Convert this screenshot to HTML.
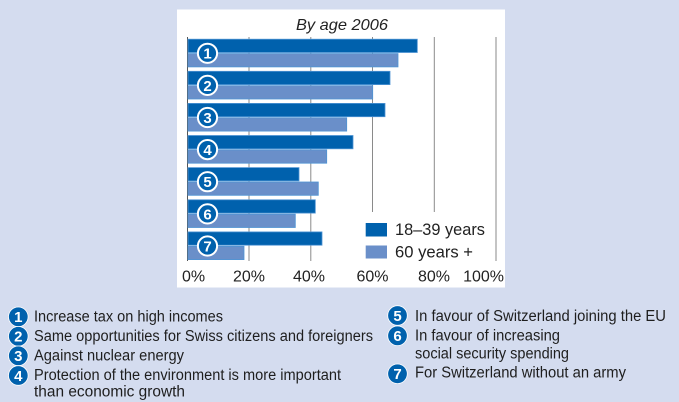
<!DOCTYPE html>
<html>
<head>
<meta charset="utf-8">
<style>
html,body{margin:0;padding:0;background:#D4DCEF;}
svg{display:block;}
text{font-family:"Liberation Sans",sans-serif;}
</style>
</head>
<body>
<svg width="679" height="402" viewBox="0 0 679 402" xmlns="http://www.w3.org/2000/svg">
<rect x="0" y="0" width="679" height="402" fill="#D4DCEF"/>
<rect x="177" y="9.5" width="328" height="278" fill="#FFFFFF"/>

<text x="342" y="30" font-size="16" font-style="italic" fill="#222" text-anchor="middle" textLength="92" lengthAdjust="spacingAndGlyphs">By age 2006</text>

<!-- gridlines -->
<g stroke="#8a8a8a" stroke-width="1">
<line x1="249" y1="37" x2="249" y2="261"/>
<line x1="310.8" y1="37" x2="310.8" y2="261"/>
<line x1="372.5" y1="37" x2="372.5" y2="261"/>
<line x1="434.3" y1="37" x2="434.3" y2="261"/>
<line x1="496" y1="37" x2="496" y2="261"/>
</g>
<rect x="345" y="212" width="145" height="52" fill="#FFFFFF"/>
<line x1="187.5" y1="37" x2="187.5" y2="261" stroke="#555" stroke-width="1"/>

<!-- bars -->
<g stroke="#4F94D4" stroke-width="0.8">
<rect x="188" y="39.2" width="229.3" height="13.3" fill="#0061AD"/>
<rect x="188" y="53.6" width="210" height="13.3" fill="#6A8FC9"/>
<rect x="188" y="71.3" width="202" height="13.3" fill="#0061AD"/>
<rect x="188" y="85.7" width="184.7" height="13.3" fill="#6A8FC9"/>
<rect x="188" y="103.4" width="197" height="13.3" fill="#0061AD"/>
<rect x="188" y="117.8" width="158.7" height="13.3" fill="#6A8FC9"/>
<rect x="188" y="135.5" width="165" height="13.3" fill="#0061AD"/>
<rect x="188" y="149.9" width="138.7" height="13.3" fill="#6A8FC9"/>
<rect x="188" y="167.6" width="111" height="13.3" fill="#0061AD"/>
<rect x="188" y="182" width="130.3" height="13.3" fill="#6A8FC9"/>
<rect x="188" y="199.8" width="127.3" height="13.3" fill="#0061AD"/>
<rect x="188" y="214.2" width="107.3" height="13.3" fill="#6A8FC9"/>
<rect x="188" y="231.9" width="134" height="13.3" fill="#0061AD"/>
<rect x="188" y="246.3" width="56" height="13.3" fill="#6A8FC9"/>
</g>

<!-- chart circles -->
<g fill="#0061AD" stroke="#FFFFFF" stroke-width="2">
<circle cx="207.5" cy="53.3" r="9.6"/>
<circle cx="207.5" cy="85.4" r="9.6"/>
<circle cx="207.5" cy="117.5" r="9.6"/>
<circle cx="207.5" cy="149.6" r="9.6"/>
<circle cx="207.5" cy="181.7" r="9.6"/>
<circle cx="207.5" cy="213.9" r="9.6"/>
<circle cx="207.5" cy="246" r="9.6"/>
</g>
<g fill="#FFFFFF" font-size="15" font-weight="bold" text-anchor="middle">
<text x="207.5" y="58.7">1</text>
<text x="207.5" y="90.8">2</text>
<text x="207.5" y="122.9">3</text>
<text x="207.5" y="155">4</text>
<text x="207.5" y="187.1">5</text>
<text x="207.5" y="219.3">6</text>
<text x="207.5" y="251.4">7</text>
</g>

<!-- legend -->
<rect x="365.7" y="223" width="21.3" height="13.5" fill="#0061AD"/>
<rect x="365.7" y="245.5" width="21.3" height="13" fill="#6A8FC9"/>
<text x="395" y="235" font-size="16.5" fill="#222" textLength="90" lengthAdjust="spacingAndGlyphs">18–39 years</text>
<text x="395" y="257.5" font-size="16.5" fill="#222" textLength="78" lengthAdjust="spacingAndGlyphs">60 years +</text>

<!-- axis labels -->
<g font-size="16" fill="#222">
<text x="182" y="281.5">0%</text>
<text x="249" y="281.5" text-anchor="middle">20%</text>
<text x="309" y="281.5" text-anchor="middle">40%</text>
<text x="372.5" y="281.5" text-anchor="middle">60%</text>
<text x="434" y="281.5" text-anchor="middle">80%</text>
<text x="504" y="281.5" text-anchor="end">100%</text>
</g>

<!-- bottom legend circles -->
<g fill="#0061AD" stroke="#FFFFFF" stroke-width="0.8">
<circle cx="18.3" cy="316.8" r="9.8"/>
<circle cx="18.3" cy="336.3" r="9.8"/>
<circle cx="18.3" cy="355.8" r="9.8"/>
<circle cx="18.3" cy="375.5" r="9.8"/>
<circle cx="397.5" cy="315.5" r="9.8"/>
<circle cx="397.5" cy="335.8" r="9.8"/>
<circle cx="397.5" cy="373.8" r="9.8"/>
</g>
<g fill="#FFFFFF" font-size="15" font-weight="bold" text-anchor="middle">
<text x="18.3" y="322.2">1</text>
<text x="18.3" y="341.7">2</text>
<text x="18.3" y="361.2">3</text>
<text x="18.3" y="380.9">4</text>
<text x="397.5" y="320.9">5</text>
<text x="397.5" y="341.2">6</text>
<text x="397.5" y="379.2">7</text>
</g>

<!-- bottom legend texts -->
<g font-size="15.5" fill="#1e1e1e">
<text x="34" y="321.5" textLength="189" lengthAdjust="spacingAndGlyphs">Increase tax on high incomes</text>
<text x="34" y="341" textLength="339" lengthAdjust="spacingAndGlyphs">Same opportunities for Swiss citizens and foreigners</text>
<text x="34" y="360.7" textLength="150" lengthAdjust="spacingAndGlyphs">Against nuclear energy</text>
<text x="34" y="380" textLength="307" lengthAdjust="spacingAndGlyphs">Protection of the environment is more important</text>
<text x="34" y="396.7" textLength="151" lengthAdjust="spacingAndGlyphs">than economic growth</text>
<text x="415" y="321" textLength="251" lengthAdjust="spacingAndGlyphs">In favour of Switzerland joining the EU</text>
<text x="415" y="340.7" textLength="145" lengthAdjust="spacingAndGlyphs">In favour of increasing</text>
<text x="415" y="358.3" textLength="154" lengthAdjust="spacingAndGlyphs">social security spending</text>
<text x="415" y="377.3" textLength="211" lengthAdjust="spacingAndGlyphs">For Switzerland without an army</text>
</g>
</svg>
</body>
</html>
